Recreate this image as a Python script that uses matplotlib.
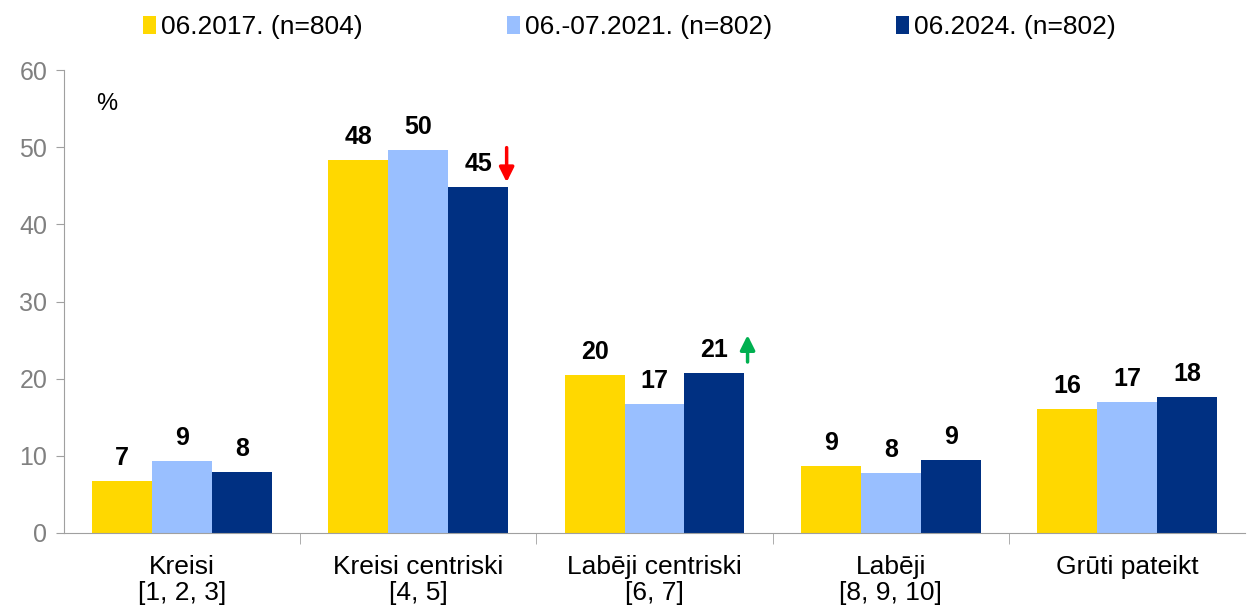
import numpy as np
import matplotlib.pyplot as plt

plt.rcParams['font.family'] = ['Liberation Sans', 'DejaVu Sans']

categories = ['Kreisi\n[1, 2, 3]', 'Kreisi centriski\n[4, 5]', 'Labēji centriski\n[6, 7]',
              'Labēji\n[8, 9, 10]', 'Grūti pateikt']
series = ['06.2017. (n=804)', '06.-07.2021. (n=802)', '06.2024. (n=802)']
vals_2017 = [6.7, 48.3, 20.5, 8.7, 16.1]
vals_2021 = [9.3, 49.6, 16.7, 7.8, 17.0]
vals_2024 = [7.9, 44.8, 20.7, 9.5, 17.6]
labels_2017 = [7, 48, 20, 9, 16]
labels_2021 = [9, 50, 17, 8, 17]
labels_2024 = [8, 45, 21, 9, 18]
colors = ['#FFD800', '#99BFFF', '#003082']

fig = plt.figure(figsize=(12.47, 6.10), dpi=100)
ax = fig.add_axes([64 / 1247, 1 - 533 / 610, 1181 / 1247, 463 / 610])

x = np.arange(len(categories))
w = 0.254
all_vals = [vals_2017, vals_2021, vals_2024]
all_labels = [labels_2017, labels_2021, labels_2024]
handles = []
for i, (v, lab, c, name) in enumerate(zip(all_vals, all_labels, colors, series)):
    pos = x + (i - 1) * w
    b = ax.bar(pos, v, width=w, color=c, label=name)
    handles.append(b)
    for p, val, l in zip(pos, v, lab):
        ax.text(p, val + 1.4, str(l), ha='center', va='bottom', fontsize=18, fontweight='bold')

# change arrows
ax.annotate('', xy=(x[1] + w + 0.12, 44.8 + 0.3), xytext=(x[1] + w + 0.12, 50.3),
            arrowprops=dict(arrowstyle='-|>', color='#FF0000', lw=2.5, mutation_scale=22))
ax.annotate('', xy=(x[2] + w + 0.14, 26.0), xytext=(x[2] + w + 0.14, 21.8),
            arrowprops=dict(arrowstyle='-|>', color='#00B050', lw=2.5, mutation_scale=22))

ax.set_xlim(-0.5, len(categories) - 0.5)
ax.set_ylim(0, 60)
ax.set_yticks(range(0, 61, 10))
ax.tick_params(axis='y', labelsize=18, colors='#A0A0A0', labelcolor='#808080', length=6,
               direction='out', pad=6)
ax.set_xticks(x)
ax.set_xticklabels(categories, fontsize=19, linespacing=1.1)
ax.tick_params(axis='x', length=0, pad=16)
ax.set_xticks(np.arange(0.5, len(categories) - 0.5), minor=True)
ax.tick_params(axis='x', which='minor', length=8, color='#A0A0A0')

for s in ['top', 'right']:
    ax.spines[s].set_visible(False)
ax.spines['left'].set_color('#A0A0A0')
ax.spines['bottom'].set_color('#A0A0A0')

ax.text(0.027, 0.95, '%', transform=ax.transAxes, fontsize=17, va='top')

# legend entries sit in fixed slots along the top
legend_x = [143, 507, 896]
for h, name, lx in zip(handles, series, legend_x):
    fig.legend([h], [name], loc='center left', bbox_to_anchor=(lx / 1247, 1 - 27 / 610),
               frameon=False, fontsize=19, handlelength=0.5, handleheight=0.7,
               handletextpad=0.2, borderpad=0, borderaxespad=0)

fig.savefig('out.png', dpi=100)
